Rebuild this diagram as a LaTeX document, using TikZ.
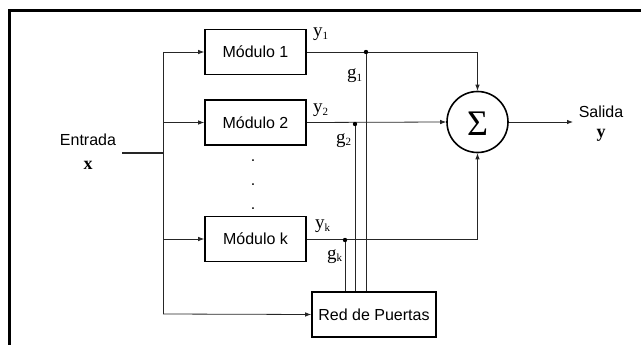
\documentclass[tikz,border=0pt]{standalone}
\usepackage{fontspec}
\setmainfont{Liberation Serif}
\setsansfont{Liberation Sans}
\usetikzlibrary{arrows.meta}
\newcommand{\mysub}[1]{\raisebox{-2.5pt}{\fontsize{11}{11}\selectfont #1}}
\tikzset{
  modbox/.style={draw, line width=1.6pt, minimum width=101pt, minimum height=45pt, inner sep=0pt, font=\sffamily\fontsize{16}{18}\selectfont},
  wire/.style={line width=0.8pt, draw=black!85},
  arr/.style={wire, -{Latex[length=6pt,width=4.5pt]}},
  lbl/.style={font=\fontsize{19}{20}\selectfont, inner sep=0pt, anchor=base west},
  stxt/.style={font=\sffamily\fontsize{16}{18}\selectfont, inner sep=0pt},
  junct/.style={fill=black}
}
\begin{document}
\begin{tikzpicture}[x=1pt,y=-1pt]
\useasboundingbox (0,0) rectangle (641,345);
% frame
\draw[line width=3pt] (9,345) -- (9,11) -- (641,11);
% boxes
\node[modbox] (m1) at (255.5,52) {Módulo 1};
\node[modbox] (m2) at (255.5,122.5) {Módulo 2};
\node[modbox] (mk) at (255.5,239) {Módulo k};
\node[modbox, minimum width=124pt] (red) at (374,314.5) {Red de Puertas};
\node[draw, circle, line width=1.6pt, minimum size=61pt, inner sep=0pt] (sum) at (477.5,122) {};
\node[font=\fontsize{36}{38}\selectfont, inner sep=0pt] (sigma) at (477.5,123.5) {Σ};
% dots
\node[stxt] (dot1) at (253,161) {.};
\node[stxt] (dot2) at (253,185) {.};
\node[stxt] (dot3) at (253,209) {.};
% input
\node[stxt] (entrada) at (88,140) {Entrada};
\node[font=\bfseries\fontsize{18}{18}\selectfont, inner sep=0pt] (xin) at (88,165) {x};
\coordinate (in1) at (122,153);
\coordinate (bj) at (163,153);
\coordinate (busT) at (163,52);
\coordinate (busB) at (163,314);
\draw[wire, line width=1.2pt] (in1) -- (bj);
\draw[wire] (busT) -- (busB);
\draw[arr] (busT) -- (m1.west);
\draw[arr] (busT |- m2.west) -- (m2.west);
\draw[arr] (busT |- mk.west) -- (mk.west);
\draw[arr] (busB) -- (red.west);
% outputs
\draw[arr] (m1.east) -| (sum.north);
\draw[arr] (m2.east) -- (sum.west);
\draw[arr] (mk.east) -| (sum.south);
\coordinate (out) at (573,122);
\draw[arr] (sum.east) -- (out);
\node[stxt] (salida) at (601,112) {Salida};
\node[font=\bfseries\fontsize{18}{18}\selectfont, inner sep=0pt] (yout) at (601,135) {y};
% gate lines
\coordinate (d1) at (366,52);
\coordinate (d2) at (355,124);
\coordinate (dk) at (345,240);
\draw[wire] (d1) -- (d1 |- red.north);
\draw[wire] (d2) -- (d2 |- red.north);
\draw[wire] (dk) -- (dk |- red.north);
\fill[junct] (d1) circle (2.2);
\fill[junct] (d2) circle (2.2);
\fill[junct] (dk) circle (2.2);
% labels
\node[lbl] (ly1) at (313,37) {y\mysub{1}};
\node[lbl] (lg1) at (347,79) {g\mysub{1}};
\node[lbl] (ly2) at (313,113) {y\mysub{2}};
\node[lbl] (lg2) at (336,143) {g\mysub{2}};
\node[lbl] (lyk) at (315,229) {y\mysub{k}};
\node[lbl] (lgk) at (327,259) {g\mysub{k}};
\end{tikzpicture}
\end{document}
